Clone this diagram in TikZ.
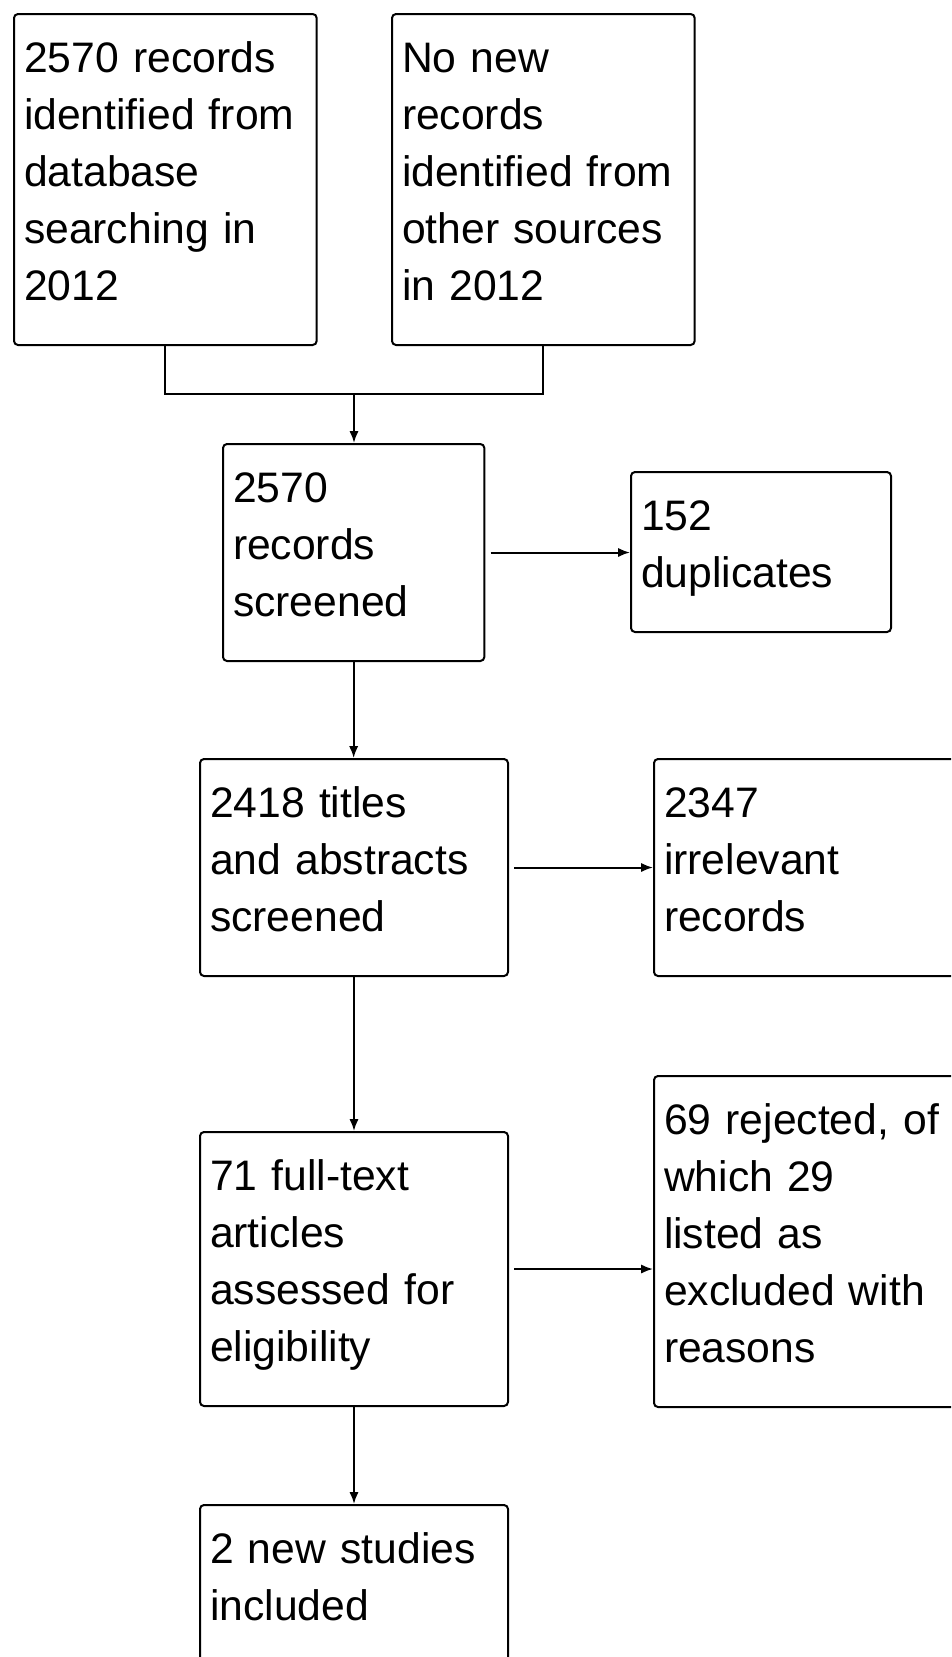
\documentclass[tikz,border=0pt]{standalone}
\usepackage{fontspec}
\setmainfont{Liberation Sans}
\usetikzlibrary{arrows.meta}
\newcommand{\bstrut}{\rule[-16.5pt]{0pt}{42.75pt}}
\begin{document}
\begin{tikzpicture}[x=0.75pt,y=-0.75pt,
    font={\fontsize{32}{42.75}\selectfont},
    stage/.style={draw,line width=1.5pt,rounded corners=3pt,anchor=north west,align=left,
      inner xsep=7.5pt,inner ysep=17.25pt,text width=#1,
      execute at begin node=\bstrut,execute at end node=\bstrut},
    stage/.default=216pt,
    link/.style={line width=1.5pt,-{Latex[length=9pt,width=7pt]}}]
    \fill[white] (0,0) rectangle (951,1657);
    \useasboundingbox (0,0) rectangle (951,1657);
    \clip (0,0) rectangle (951,1657);
    \node[stage=212pt] (a) at (13,13)   {2570 records\\identified from\\database\\searching in\\2012};
    \node[stage=212pt] (b) at (391,13)  {No new\\records\\identified from\\other sources\\in 2012};
    \node[stage=181pt] (c) at (222,443) {2570\\records\\screened};
    \node[stage=180pt] (d) at (630,471) {152\\duplicates};
    \node[stage] (e) at (199,758)  {2418 titles\\and abstracts\\screened};
    \node[stage] (f) at (653,758)  {2347\\irrelevant\\records};
    \node[stage] (g) at (199,1131) {71 full-text\\articles\\assessed for\\eligibility};
    \node[stage] (h) at (653,1075) {69 rejected, of\\which 29\\listed as\\excluded with\\reasons};
    \node[stage] (i) at (199,1504) {2 new studies\\included};
    \coordinate (m) at (354,394);
    \draw[line width=1.5pt] (a.south) |- (m) -| (b.south);
    \draw[link] (m) -- (m |- c.north);
    \foreach \u/\v in {c/e,e/g,g/i} { \draw[link] (\u.south) -- (\u.south |- \v.north); }
    \foreach \u/\v in {c/d,e/f,g/h} { \draw[link,shorten <=4pt] (\u.east) -- (\u.east -| \v.west); }
  \end{tikzpicture}
\end{document}
